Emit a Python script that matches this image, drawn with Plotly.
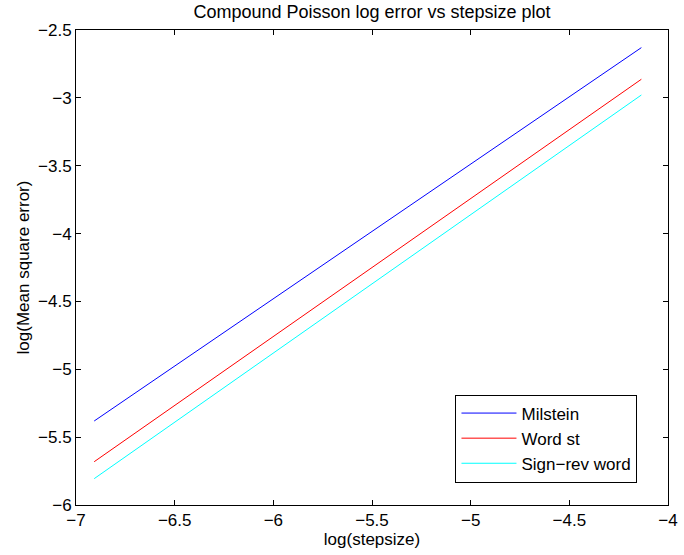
import plotly.graph_objects as go

log_step = [-6.9078, -4.135]
milstein = [-5.381, -2.630]
word_st = [-5.681, -2.863]
sign_rev = [-5.806, -2.979]

names = ["Milstein", "Word st", "Sign\u2212rev word"]
colors = ["#0000ff", "#ff0000", "#00ffff"]

fig = go.Figure()
for name, ys, c in zip(names, [milstein, word_st, sign_rev], colors):
    fig.add_trace(go.Scatter(x=log_step, y=ys, mode="lines", name=name,
                             line=dict(color=c, width=1)))

axis_common = dict(showgrid=False, zeroline=False, showline=True, linecolor="black",
                   linewidth=1, mirror="allticks", ticks="inside", ticklen=5,
                   tickcolor="black", tickfont=dict(size=17, color="black"),
                   ticklabeloverflow="allow")
fig.update_xaxes(range=[-7, -4], tickvals=[-7, -6.5, -6, -5.5, -5, -4.5, -4],
                 ticktext=["\u22127", "\u22126.5", "\u22126", "\u22125.5", "\u22125", "\u22124.5", "\u22124"],
                 title=dict(text="log(stepsize)", font=dict(size=17, color="black"), standoff=1),
                 **axis_common)
fig.update_yaxes(range=[-6, -2.5], tickvals=[-6, -5.5, -5, -4.5, -4, -3.5, -3, -2.5],
                 ticktext=["\u22126", "\u22125.5", "\u22125", "\u22124.5", "\u22124", "\u22123.5", "\u22123", "\u22122.5"],
                 title=dict(text="log(Mean square error)", font=dict(size=17, color="black"), standoff=4),
                 **axis_common)

fig.update_layout(
    width=684, height=555,
    margin=dict(l=76, r=6, t=30, b=50),
    paper_bgcolor="white", plot_bgcolor="white",
    font=dict(family="Liberation Sans, Arial, sans-serif", size=17, color="black"),
    title=dict(text="Compound Poisson log error vs stepsize plot", x=0.5, xanchor="center",
               xref="paper", y=0.99, yanchor="top", font=dict(size=18, color="black")),
    legend=dict(x=0.641, y=0.2326, xanchor="left", yanchor="top",
                bordercolor="black", borderwidth=1, bgcolor="white", itemwidth=55,
                font=dict(size=17, color="black"), tracegroupgap=0),
)

fig.write_html("out.html")
